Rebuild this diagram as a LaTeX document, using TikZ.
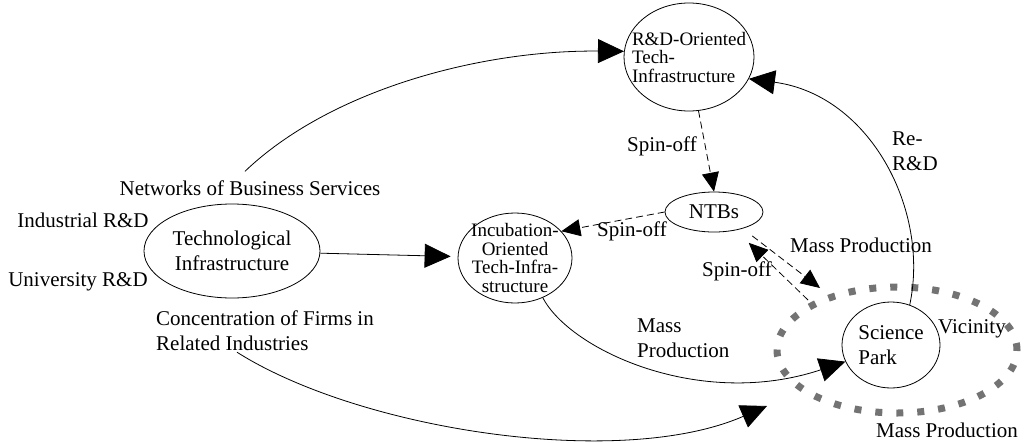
\documentclass[tikz,border=0pt]{standalone}
\usepackage{fontspec}
\setmainfont{Liberation Serif}
\usetikzlibrary{arrows.meta,shapes.geometric}

\tikzset{
  bubble/.style={draw, ellipse, inner sep=0pt, line width=0.8pt},
  big/.style={inner sep=1pt, font=\fontsize{21}{25}\selectfont},
  small/.style={font=\fontsize{19}{18.5}\selectfont},
  flow/.style={line width=0.8pt, -{Triangle[length=26pt,width=24pt]}},
  spin/.style={line width=0.8pt, dash pattern=on 7pt off 4pt, -{Triangle[length=19pt,width=17pt]}},
  dotring/.style={draw=black!55, ellipse, line width=7pt, dash pattern=on 7pt off 14pt},
}

\begin{document}
\begin{tikzpicture}[x=1pt,y=-1pt]
\useasboundingbox (0,0) rectangle (1030,442);

% vicinity of the park
\node[dotring, minimum width=240pt, minimum height=126pt] (ring) at (897,350) {};

% the bubbles
\node[bubble, big, align=center, minimum width=176pt, minimum height=94pt] (tech) at (232,251) {Technological\\Infrastructure};
\node[bubble, small, align=left, inner sep=-12pt, minimum width=130pt, minimum height=108pt] (rd) at (689,57) {R\&D-Oriented\\Tech-\\Infrastructure};
\node[bubble, small, align=center, inner sep=-7pt, minimum width=114pt, minimum height=90pt] (inc) at (515,258) {Incubation-\\Oriented\\Tech-Infra-\\structure};
\node[bubble, big, minimum width=98pt, minimum height=40pt] (ntb) at (714,212) {NTBs};
\node[bubble, big, align=left, minimum width=98pt, minimum height=86pt] (sp) at (891,345) {Science\\Park};

% labels
\node[big] (ind) at (83,220) {Industrial R\&D};
\node[big] (uni) at (78,282) {University R\&D};
\node[big] (net) at (250,188) {Networks of Business Services};
\node[big, align=left, anchor=west] (conc) at (155,331) {Concentration of Firms in\\Related Industries};
\node[big] (spinA) at (662,146) {Spin-off};
\node[big] (spinB) at (632,231) {Spin-off};
\node[big] (spinC) at (737,271) {Spin-off};
\node[big] (massA) at (861,245) {Mass Production};
\node[big, align=left, anchor=west] (massB) at (636,338) {Mass\\Production};
\node[big] (massC) at (947,430) {Mass Production};
\node[big] (vicinity) at (972,329) {Vicinity};
\node[big, align=left, anchor=west] (rerd) at (891,151) {Re-\\R\&D};

\coordinate (conctip) at (767,406);
\coordinate (masstip) at (820,288);
\coordinate (spinfoot) at (808,300);

% solid flows
\draw[flow] ([shift={(-5,-8)}]net.north) .. controls (330,90) and (480,50) .. (rd.175);
\draw[flow, shorten >=7pt] (tech) -- (inc);
\draw[flow] ([xshift=-28pt]conc.south) .. controls (360,430) and (620,470) .. (conctip);
\draw[flow] (inc.-55) .. controls (570,350) and (700,410) .. (sp.200);
\draw[flow] (sp.65) .. controls (930,210) and (870,95) .. (rd.-20);

% dashed flows
\draw[spin] (rd.-80) -- (ntb.north);
\draw[spin] (ntb.west) -- (inc.30);
\draw[spin, shorten <=12pt] (ntb.-30) -- (masstip);
\draw[spin, shorten >=18pt] (spinfoot) -- (ntb.-40);
\end{tikzpicture}
\end{document}
